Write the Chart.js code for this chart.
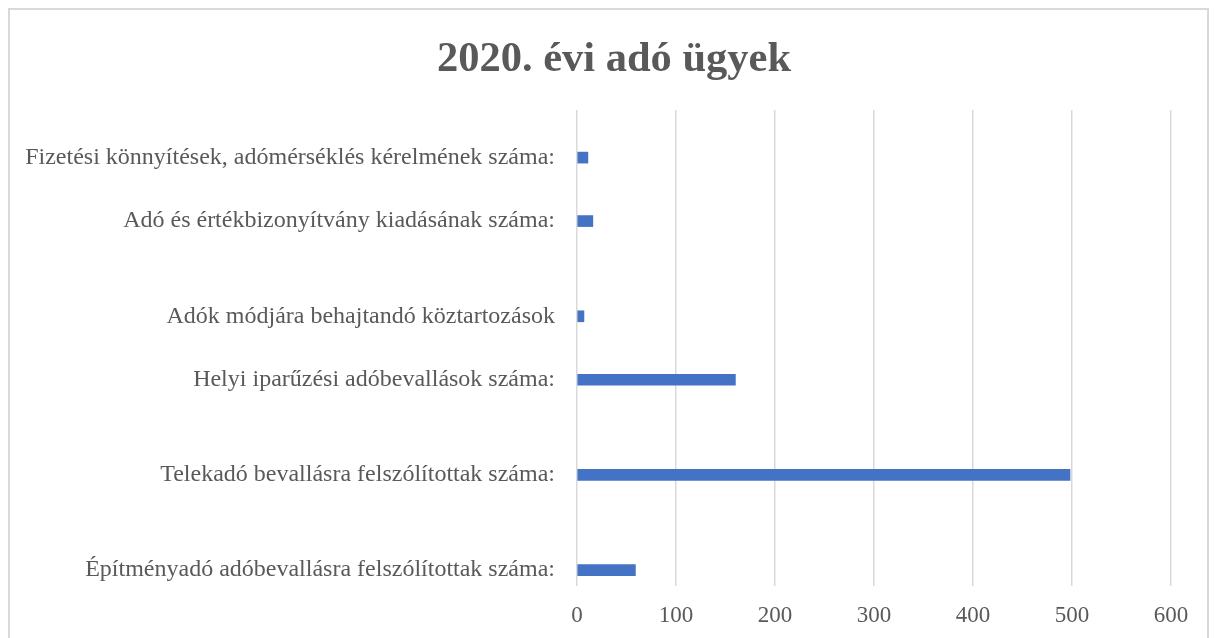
<!DOCTYPE html>
<html>
<head>
<meta charset="utf-8">
<script src="https://cdn.jsdelivr.net/npm/chart.js@4/dist/chart.umd.min.js"></script>
<style>
  html, body { margin: 0; padding: 0; background: #fff; overflow: hidden; }
  #frame {
    position: absolute; left: 8px; top: 8px; width: 1197px; height: 660px;
    border: 2px solid #d9d9d9;
  }
  #myChart { position: absolute; left: 0; top: 0; }
</style>
</head>
<body>
<div id="frame"></div>
<canvas id="myChart" width="1215" height="638"></canvas>
<script>
// categories top to bottom, blank entries are the empty slots of the original
let categories = [
  "",
  "Fizetési könnyítések, adómérséklés kérelmének száma:",
  "",
  "Adó és értékbizonyítvány kiadásának száma:",
  "",
  "",
  "Adók módjára behajtandó köztartozások",
  "",
  "Helyi iparűzési adóbevallások száma:",
  "",
  "",
  "Telekadó bevallásra felszólítottak száma:",
  "",
  "",
  "Építményadó adóbevallásra felszólítottak száma:",
];
let values = [null, 11, null, 16, null, null, 7, null, 160, null, null, 498, null, null, 59];
let xTicks = [0, 100, 200, 300, 400, 500, 600];

let textColor = "#595959";
let serif = "'Liberation Serif', 'Times New Roman', serif";

// title is centred over the whole chart frame, not over the padded box
const titleShift = {
  id: "titleShift",
  afterLayout(chart) {
    if (chart.titleBlock) chart.titleBlock.left += 57;
  },
};

let myChart = document.getElementById("myChart");

let myGraph = new Chart(myChart, {
  type: "bar",
  plugins: [titleShift],
  data: {
    labels: categories,
    datasets: [
      {
        label: "2020",
        data: values,
        backgroundColor: "#4472c4",
        barThickness: 11,
      },
    ],
  },
  options: {
    indexAxis: "y",
    responsive: false,
    animation: false,
    layout: {
      padding: { left: 0, right: 44, top: 0, bottom: 0 },
    },
    plugins: {
      legend: { display: false },
      tooltip: { enabled: false },
      title: {
        display: true,
        text: "2020. évi adó ügyek",
        color: textColor,
        font: { family: serif, size: 42.5, weight: "bold" },
        padding: { top: 35, bottom: 24 },
      },
    },
    scales: {
      x: {
        min: 0,
        max: 600,
        afterBuildTicks: function (scale) {
          scale.ticks = xTicks.map((v) => ({ value: v }));
        },
        grid: { color: "#d9d9d9", lineWidth: 1.5, drawTicks: false },
        border: { display: false },
        ticks: {
          color: textColor,
          font: { family: serif, size: 23 },
          padding: 16,
        },
        afterFit: function (scale) {
          scale.height = 52;
        },
      },
      y: {
        grid: { display: false },
        border: { display: false },
        ticks: {
          autoSkip: false,
          color: textColor,
          font: { family: serif, size: 24 },
          padding: 14,
        },
        afterFit: function (scale) {
          scale.width = 577;
        },
      },
    },
  },
});
</script>
</body>
</html>
